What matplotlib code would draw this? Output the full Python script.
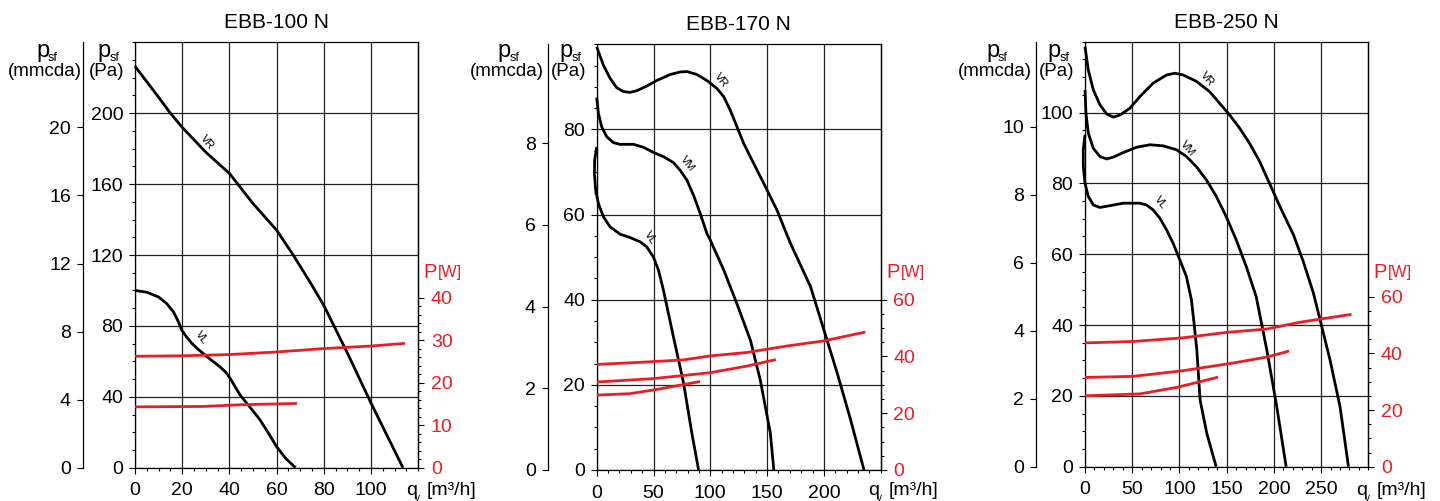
import numpy as np
import matplotlib
matplotlib.use("Agg")
import matplotlib.pyplot as plt
from matplotlib.ticker import MultipleLocator, FixedLocator

plt.rcParams['font.family'] = ['Liberation Sans', 'DejaVu Sans']

RED = '#ec1c24'
W_PX, H_PX = 1440, 501
PA_PER_MMCDA = 9.6   # scale as drawn on the original sheet

# ---------------- EBB-100 N ----------------
e100_vr_q = [0, 10, 15, 20, 30, 40, 50, 60, 67, 74, 80, 90, 100, 113.5]
e100_vr_p = [226.5, 209, 200, 192, 178, 166, 149, 134, 120, 105, 91.5, 64.6, 36.4, 0]
e100_vl_q = [0, 5, 10, 13.5, 16.3, 18.5, 19.8, 22, 24.1, 27, 29.7, 33, 36, 38.5,
             40.3, 44.5, 48.5, 53, 57, 60, 64, 68]
e100_vl_p = [100, 99, 96.3, 92.5, 87.9, 82, 77.6, 73.5, 70.1, 66.5, 63.5, 60,
             56.9, 53.8, 50.4, 41, 34.5, 26.9, 18.5, 11.8, 5, 0]
e100_pw_hi_q = [0, 20, 40, 60, 80, 100, 113.8]
e100_pw_hi = [26.2, 26.3, 26.6, 27.2, 28.0, 28.6, 29.2]
e100_pw_lo_q = [0, 15, 29, 45, 68]
e100_pw_lo = [14.3, 14.35, 14.4, 14.8, 15.1]

# ---------------- EBB-170 N ----------------
e170_vr_q = [0, 5.9, 11.8, 17.6, 23.5, 29.4, 35.3, 44.1, 52.9, 64.7, 73.5, 79.4,
             88.2, 97, 105.9, 111.8, 117.6, 123.5, 129.4, 138.2, 147.1, 158.8,
             170.6, 188.2, 200, 211.8, 223.5, 235.3]
e170_vr_p = [99.4, 95.1, 92, 89.8, 88.9, 88.7, 89.1, 90.2, 91.5, 92.9, 93.5, 93.6,
             92.9, 91.5, 89.6, 87.7, 84.5, 80.6, 76.7, 72, 67.3, 61,
             53.2, 43.1, 32.9, 22.7, 11.8, 0]
e170_vm_q = [0, 1.5, 4.4, 8.8, 14.7, 20.6, 32.4, 41.2, 50, 58.8, 67.6, 73.5, 79.4,
             85.3, 91.2, 97.1, 100, 111.8, 123.5, 135.3, 144.1, 152.9, 155.9]
e170_vm_p = [87.5, 83.8, 80.6, 78.3, 76.9, 76.5, 76.5, 75.8, 74.6, 73.6, 72.2, 70.4,
             68.1, 64.5, 60.2, 55.5, 54, 47, 39, 30.5, 21, 8.6, 0]
e170_vl_q = [0, -1.8, -2, -0.9, 1.5, 5.9, 11.8, 20.6, 29.4, 38.2, 44.1, 50, 54.4,
             58.8, 63.2, 67.6, 76.5, 83.8, 89.7]
e170_vl_p = [75.9, 72.8, 69.6, 65.7, 62.6, 59.5, 57.1, 55.4, 54.6, 53.6, 52.4, 50,
             46.9, 42.2, 36.7, 31.2, 20.4, 8.6, 0]
e170_pw_hi_q = [0, 41.2, 76.5, 100, 132, 167.6, 200, 235.3]
e170_pw_hi = [37.2, 38, 38.8, 40.2, 41.4, 43.7, 45.5, 48.5]
e170_pw_mid_q = [0, 50, 100, 132, 156.5]
e170_pw_mid = [31, 32.2, 34.3, 36.6, 38.8]
e170_pw_lo_q = [0, 29.4, 52.9, 76.5, 89.7]
e170_pw_lo = [26.4, 26.9, 28.4, 30.1, 31.1]

# ---------------- EBB-250 N ----------------
e250_vr_q = [0, 3.5, 8.8, 15.8, 22.9, 29.9, 37, 47.5, 58.1, 72.2, 86.3, 95.1,
             103.9, 118, 132, 142.6, 153.2, 163.7, 174.3, 184.9, 195.4, 206.3,
             220.7, 231.3, 241.9, 249, 259.5, 270.1, 279]
e250_vr_p = [118.6, 112, 106.4, 102.2, 99.6, 98.7, 99.3, 101.2, 104.5, 108.3, 110.6,
             111.1, 110.6, 108.8, 105.9, 102.6, 99.3, 95.6, 91.3, 86.2, 80, 73.5,
             65.5, 57.8, 49, 41.4, 30.1, 16.9, 0]
e250_vm_q = [0, 1, 3.5, 8.8, 15.8, 22.9, 29.9, 40.5, 54.6, 68.7, 82.7, 96.8, 107.4,
             118, 128.5, 139.1, 149.6, 160.2, 170.8, 181.3, 192.5, 203.1, 213]
e250_vm_p = [106.4, 99.8, 94.2, 89.9, 87.6, 86.9, 87.4, 88.7, 90.2, 90.9, 90.6, 89.5,
             87.6, 84.7, 81, 76.3, 70.6, 64, 56.5, 48, 33, 16.9, 0]
e250_vl_q = [0, -1.8, -1.8, 0, 3.5, 8.8, 15.8, 26.4, 40.5, 58.1, 65.1, 72.2, 79.2,
             86.3, 93.3, 100.4, 107.4, 112.7, 115.5, 118.4, 121.9, 129, 138.9]
e250_vl_p = [93.7, 89.5, 84.7, 80, 76.3, 73.9, 73.2, 73.7, 74.4, 74.4, 73.9, 72.5,
             70.2, 66.9, 63.1, 58.4, 53.7, 47.1, 40.5, 33, 18.8, 9.4, 0]
e250_pw_hi_q = [0, 51.3, 104.2, 150, 192.5, 227.8, 280.8]
e250_pw_hi = [43.7, 44.2, 45.5, 47.4, 48.6, 51, 53.7]
e250_pw_mid_q = [0, 51.3, 104.2, 157, 192.5, 214.8]
e250_pw_mid = [31.5, 31.9, 33.9, 36.6, 38.7, 40.7]
e250_pw_lo_q = [0, 58.3, 97.2, 125.4, 139.6]
e250_pw_lo = [25, 25.7, 28, 30.3, 31.5]

# tick values shown on each panel
e100_mm_ticks = [0, 4, 8, 12, 16, 20]
e170_mm_ticks = [0, 2, 4, 6, 8]
e250_mm_ticks = [0, 2, 4, 6, 8, 10]
e100_pw_ticks = [0, 10, 20, 30, 40]
e170_pw_ticks = [0, 20, 40, 60]
e250_pw_ticks = [0, 20, 40, 60]

panels = [
    dict(title="EBB-100 N", box=(135, 418.3, 42.3, 467.7), xmax=120, xstep=20, xminor=5,
         ymax=240, ystep=40, yminor=10, mm_ticks=e100_mm_ticks, mm_off=37.7,
         pmax=100, p_ticks=e100_pw_ticks, p_minor=2,
         curves=[(e100_vr_q, e100_vr_p, "VR", 30.5, 183.5, -52),
                 (e100_vl_q, e100_vl_p, "VL", 28, 73.5, -52)],
         power=[(e100_pw_hi_q, e100_pw_hi), (e100_pw_lo_q, e100_pw_lo)]),
    dict(title="EBB-170 N", box=(596.7, 880.7, 44.3, 470), xmax=250, xstep=50, xminor=10,
         ymax=100, ystep=20, yminor=5, mm_ticks=e170_mm_ticks, mm_off=35.3,
         pmax=150, p_ticks=e170_pw_ticks, p_minor=5,
         curves=[(e170_vr_q, e170_vr_p, "VR", 109.5, 91.5, -52),
                 (e170_vm_q, e170_vm_p, "VM", 80, 72, -52),
                 (e170_vl_q, e170_vl_p, "VL", 47.5, 54.5, -55)],
         power=[(e170_pw_hi_q, e170_pw_hi), (e170_pw_mid_q, e170_pw_mid),
                (e170_pw_lo_q, e170_pw_lo)]),
    dict(title="EBB-250 N", box=(1085, 1368.3, 41.7, 466.7), xmax=300, xstep=50, xminor=10,
         ymax=120, ystep=20, yminor=5, mm_ticks=e250_mm_ticks, mm_off=35.3,
         pmax=150, p_ticks=e250_pw_ticks, p_minor=5,
         curves=[(e250_vr_q, e250_vr_p, "VR", 129.5, 109.5, -50),
                 (e250_vm_q, e250_vm_p, "VM", 109, 90, -50),
                 (e250_vl_q, e250_vl_p, "VL", 79.5, 74.5, -52)],
         power=[(e250_pw_hi_q, e250_pw_hi), (e250_pw_mid_q, e250_pw_mid),
                (e250_pw_lo_q, e250_pw_lo)]),
]

fig = plt.figure(figsize=(W_PX / 100, H_PX / 100), dpi=100)


def ftext(xpx, ypx, s, **kw):
    fig.text(xpx / W_PX, 1 - ypx / H_PX, s, **kw)


def draw_panel(p):
    left, right, top, bottom = p['box']
    ax = fig.add_axes([left / W_PX, 1 - bottom / H_PX,
                       (right - left) / W_PX, (bottom - top) / H_PX])
    ax.set_xlim(0, p['xmax'])
    ax.set_ylim(0, p['ymax'])
    ax.set_xticks(np.arange(0, p['xmax'], p['xstep']))
    ax.set_yticks(np.arange(0, p['ymax'], p['ystep']))
    ax.xaxis.set_minor_locator(MultipleLocator(p['xminor']))
    ax.yaxis.set_minor_locator(MultipleLocator(p['yminor']))
    ax.grid(True, which='major', color='#222222', lw=0.9)
    ax.tick_params(axis='both', which='major', direction='out', length=4.5,
                   width=0.8, labelsize=14)
    ax.tick_params(axis='both', which='minor', direction='out', length=2.5, width=0.8)
    ax.tick_params(axis='x', which='major', pad=6)
    ax.tick_params(axis='y', which='major', pad=4)
    for s in ax.spines.values():
        s.set_linewidth(0.9)

    for q, ps, name, lx, ly, rot in p['curves']:
        ax.plot(q, ps, color='black', lw=2.0, solid_joinstyle='round',
                solid_capstyle='butt', clip_on=False)
        ax.text(lx, ly, name, fontsize=8, rotation=rot, ha='center', va='center')

    ax.set_title(p['title'], fontsize=15, pad=10)

    # second pressure scale in mmcda
    ax_mm = ax.twinx()
    ax_mm.set_ylim(0, p['ymax'] / PA_PER_MMCDA)
    ax_mm.yaxis.set_ticks_position('left')
    ax_mm.spines['left'].set_position(('outward', p['mm_off']))
    ax_mm.spines['left'].set_linewidth(0.9)
    for side in ('right', 'top', 'bottom'):
        ax_mm.spines[side].set_visible(False)
    ax_mm.set_yticks(p['mm_ticks'])
    ax_mm.tick_params(axis='y', direction='out', length=4.5, width=0.8,
                      labelsize=14, pad=4)

    # power scale
    ax_p = ax.twinx()
    ax_p.set_ylim(0, p['pmax'])
    for side in ('left', 'top', 'bottom'):
        ax_p.spines[side].set_visible(False)
    ax_p.spines['right'].set_linewidth(0.9)
    ax_p.set_yticks(p['p_ticks'])
    ax_p.yaxis.set_minor_locator(FixedLocator(np.arange(0, p['p_ticks'][-1] + 0.1, p['p_minor'])))
    ax_p.tick_params(axis='y', which='major', direction='out', length=4.5, width=0.8,
                     labelsize=14, labelcolor=RED, pad=4.5)
    ax_p.tick_params(axis='y', which='minor', direction='out', length=2.5, width=0.8)
    for q, w in p['power']:
        ax_p.plot(q, w, color=RED, lw=2.0, solid_joinstyle='round')

    # axis captions
    for dx in (-99, -37.5):
        ftext(left + dx, 57, "p", fontsize=17, va='baseline')
        ftext(left + dx + 12, 61, "sf", fontsize=9, va='baseline')
    ftext(left - 90, 71, "(mmcda)", fontsize=13.5, ha='center', va='center')
    ftext(left - 28, 71, "(Pa)", fontsize=13.5, ha='center', va='center')
    ftext(right + 5.5, 278, "P", fontsize=14.5, color=RED, va='baseline')
    ftext(right + 20, 277, "[W]", fontsize=11.5, color=RED, va='baseline')
    ftext(right - 12.5, 495, "q", fontsize=14, va='baseline')
    ftext(right - 3.5, 501, "v", fontsize=7, va='baseline')
    ftext(right + 8, 495, "[m³/h]", fontsize=14, va='baseline')


for p in panels:
    draw_panel(p)

fig.savefig("out.png", dpi=100)
